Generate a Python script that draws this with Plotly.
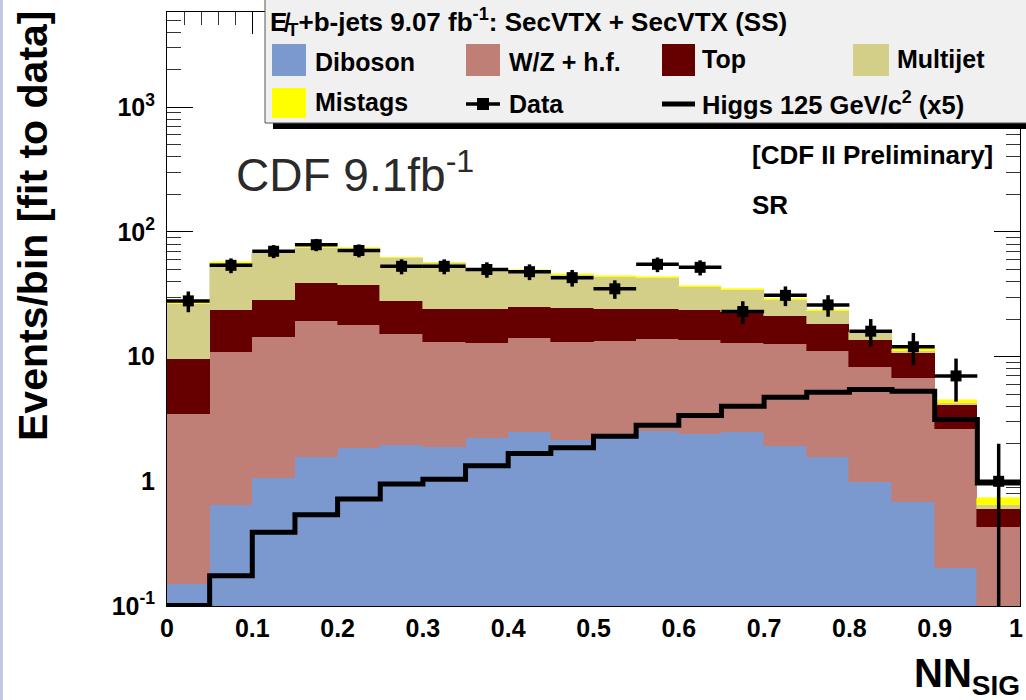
import numpy as np
import plotly.graph_objects as go

# NN_SIG bins (lower edges, width 0.05)
bin_edges = [0.00, 0.05, 0.10, 0.15, 0.20, 0.25, 0.30, 0.35, 0.40, 0.45,
             0.50, 0.55, 0.60, 0.65, 0.70, 0.75, 0.80, 0.85, 0.90, 0.95, 1.00]
bin_width = 0.05

# Background expectations per bin (events, fit to data)
diboson = [0.15, 0.64, 1.06, 1.58, 1.84, 1.94, 1.90, 2.24, 2.50, 2.14,
           2.30, 2.53, 2.41, 2.48, 1.92, 1.56, 0.98, 0.68, 0.20, 0.03]
wz_hf = [3.29, 10.3, 13.3, 17.8, 16.1, 13.3, 11.2, 10.7, 11.6, 11.0,
         11.0, 11.4, 11.1, 10.5, 10.6, 9.6, 7.3, 6.1, 2.41, 0.40]
top = [6.2, 12.9, 14.2, 19.5, 19.6, 12.7, 11.0, 11.2, 10.9, 11.4,
       10.8, 10.2, 10.3, 10.0, 8.8, 7.2, 5.2, 3.84, 1.45, 0.17]
multijet = [16.8, 32.4, 39.0, 35.2, 36.0, 33.7, 32.1, 26.2, 24.0, 20.8,
            19.8, 18.5, 12.7, 11.4, 6.9, 4.9, 2.0, 0.4, 0.2, 0.04]
mistags = [0.3, 0.8, 0.6, 0.5, 0.5, 0.6, 0.4, 0.4, 0.4, 0.4,
           0.4, 0.5, 0.4, 0.5, 0.6, 0.3, 0.2, 0.4, 0.27, 0.10]

# Observed events
data = [28, 54, 70, 79, 71, 53, 53, 50, 48, 43,
        35, 55, 52, 23, 31, 26, 16, 12, 7, 1]

# Higgs 125 GeV/c^2 signal, scaled x5
higgs_x5 = [0.101, 0.175, 0.39, 0.54, 0.72, 0.95, 1.04, 1.33, 1.67, 1.86,
            2.30, 2.81, 3.37, 4.00, 4.73, 5.18, 5.44, 5.28, 3.13, 0.97]

x_ticks = [0, 0.1, 0.2, 0.3, 0.4, 0.5, 0.6, 0.7, 0.8, 0.9, 1]
x_ticklabels = ["0", "0.1", "0.2", "0.3", "0.4", "0.5", "0.6", "0.7", "0.8", "0.9", "1"]
y_ticks = [0.1, 1, 10, 100, 1000]
y_ticklabels = ["10<sup>-1</sup>", "1", "10", "10<sup>2</sup>", "10<sup>3</sup>"]

COLORS = {
    "Diboson": "#7b99cf",
    "W/Z + h.f.": "#bf7f76",
    "Top": "#660000",
    "Multijet": "#d3cf88",
    "Mistags": "#ffff00",
}

FONT = "Liberation Sans, Arial, Helvetica, sans-serif"

# plot-area geometry in pixels
W, H = 1026, 700
L, R, T, B = 167, 1020, 12, 606


def px(x):
    return (x - L) / (R - L)


def py(y):
    return (B - y) / (B - T)


centers = [e + bin_width / 2 for e in bin_edges[:-1]]

fig = go.Figure()

for name, vals in [("Diboson", diboson), ("W/Z + h.f.", wz_hf), ("Top", top),
                   ("Multijet", multijet), ("Mistags", mistags)]:
    fig.add_trace(go.Bar(
        x=centers, y=vals, width=bin_width, name=name,
        marker=dict(color=COLORS[name], line=dict(color=COLORS[name], width=0.6)),
        showlegend=False, hoverinfo="skip",
    ))

# signal step line
fig.add_trace(go.Scatter(
    x=bin_edges, y=higgs_x5 + [higgs_x5[-1]], mode="lines", line_shape="hv",
    line=dict(color="black", width=5), showlegend=False, hoverinfo="skip",
))

# data points with Poisson errors
err = np.sqrt(np.array(data, dtype=float))
err_minus = np.minimum(err, np.array(data, dtype=float) * 0.9999)
fig.add_trace(go.Scatter(
    x=centers, y=data, mode="markers",
    marker=dict(symbol="square", size=11, color="black"),
    error_x=dict(type="constant", value=bin_width / 2, width=0, thickness=3.5, color="black"),
    error_y=dict(type="data", array=err, arrayminus=err_minus, width=0, thickness=3.5, color="black"),
    showlegend=False, hoverinfo="skip",
))

shapes = []
annotations = []

# thin frame strip on the far left
shapes.append(dict(type="rect", xref="paper", yref="paper",
                   x0=px(0), x1=px(3), y0=py(H + 5), y1=py(-5),
                   fillcolor="#c3c9e2", line=dict(width=0), layer="above"))

# legend box with shadow
shapes.append(dict(type="rect", xref="paper", yref="paper",
                   x0=px(273), x1=px(1040), y0=py(129), y1=py(122),
                   fillcolor="black", line=dict(width=0), layer="above"))
shapes.append(dict(type="rect", xref="paper", yref="paper",
                   x0=px(265), x1=px(1040), y0=py(123), y1=py(-5),
                   fillcolor="#f0f0f0", line=dict(color="#555555", width=1), layer="above"))

legend_fill = [("Diboson", 272, 306, 44, 76, 313, 62),
               ("W/Z + h.f.", 466, 500, 44, 76, 507, 62),
               ("Top", 662, 695, 44, 76, 700, 59),
               ("Multijet", 853, 889, 44, 76, 895, 59),
               ("Mistags", 272, 306, 88, 118, 313, 102)]
for name, x0, x1, y0, y1, tx, ty in legend_fill:
    shapes.append(dict(type="rect", xref="paper", yref="paper",
                       x0=px(x0), x1=px(x1), y0=py(y1), y1=py(y0),
                       fillcolor=COLORS[name], line=dict(width=0), layer="above"))
    annotations.append(dict(x=px(tx), y=py(ty), xref="paper", yref="paper",
                            text="<b>%s</b>" % name, showarrow=False,
                            xanchor="left", yanchor="middle",
                            font=dict(family=FONT, size=25, color="black")))

# data legend symbol
shapes.append(dict(type="line", xref="paper", yref="paper",
                   x0=px(466), x1=px(500), y0=py(104), y1=py(104),
                   line=dict(color="black", width=3.5), layer="above"))
shapes.append(dict(type="rect", xref="paper", yref="paper",
                   x0=px(477), x1=px(489), y0=py(110), y1=py(98),
                   fillcolor="black", line=dict(width=0), layer="above"))
annotations.append(dict(x=px(507), y=py(104), xref="paper", yref="paper",
                        text="<b>Data</b>", showarrow=False, xanchor="left", yanchor="middle",
                        font=dict(family=FONT, size=25, color="black")))
# signal legend symbol
shapes.append(dict(type="line", xref="paper", yref="paper",
                   x0=px(662), x1=px(695), y0=py(104), y1=py(104),
                   line=dict(color="black", width=5), layer="above"))
annotations.append(dict(x=px(700), y=py(103), xref="paper", yref="paper",
                        text="<b>Higgs 125 GeV/c<sup>2</sup> (x5)</b>", showarrow=False,
                        xanchor="left", yanchor="middle",
                        font=dict(family=FONT, size=25.5, color="black")))
# legend header
annotations.append(dict(x=px(268), y=py(22), xref="paper", yref="paper",
                        text="<b>E\u0338<sub>T</sub>+b-jets 9.07 fb<sup>-1</sup>: SecVTX + SecVTX (SS)</b>",
                        showarrow=False, xanchor="left", yanchor="middle",
                        font=dict(family=FONT, size=26, color="black")))

# plot labels
annotations.append(dict(x=px(750), y=py(155), xref="paper", yref="paper",
                        text="<b>[CDF II Preliminary]</b>", showarrow=False,
                        xanchor="left", yanchor="middle",
                        font=dict(family=FONT, size=26, color="black")))
annotations.append(dict(x=px(750), y=py(205), xref="paper", yref="paper",
                        text="<b>SR</b>", showarrow=False,
                        xanchor="left", yanchor="middle",
                        font=dict(family=FONT, size=26, color="black")))
annotations.append(dict(x=px(234), y=py(172), xref="paper", yref="paper",
                        text="CDF 9.1fb<sup>-1</sup>", showarrow=False,
                        xanchor="left", yanchor="middle",
                        font=dict(family=FONT, size=46, color="#2a2a2a")))

# last x tick label, kept inside the page edge
annotations.append(dict(x=px(1025), y=py(612), xref="paper", yref="paper",
                        text="<b>1</b>", showarrow=False,
                        xanchor="right", yanchor="top",
                        font=dict(family=FONT, size=25, color="black")))

# axis titles
annotations.append(dict(x=px(33), y=py(226), xref="paper", yref="paper",
                        text="<b>Events/bin [fit to data]</b>", showarrow=False,
                        textangle=-90, xanchor="center", yanchor="middle",
                        font=dict(family=FONT, size=41, color="black")))
annotations.append(dict(x=px(1022), y=py(676), xref="paper", yref="paper",
                        text="<b>NN<sub>SIG</sub></b>", showarrow=False,
                        xanchor="right", yanchor="middle",
                        font=dict(family=FONT, size=40, color="black")))

minor_y = []
for dec in [0.1, 1, 10, 100, 1000]:
    for m in range(2, 10):
        v = dec * m
        if v < 5800:
            minor_y.append(v)

fig.update_layout(
    width=W, height=H, autosize=False,
    margin=dict(l=L, r=W - R, t=T, b=H - B),
    paper_bgcolor="white", plot_bgcolor="white",
    barmode="stack", bargap=0,
    shapes=shapes, annotations=annotations,
    font=dict(family=FONT, color="black"),
    xaxis=dict(
        range=[0, 1], tickmode="array", tickvals=x_ticks,
        ticktext=x_ticklabels[:-1] + [""],
        ticks="inside", ticklen=22, tickwidth=1, tickcolor="black",
        minor=dict(ticks="inside", ticklen=13, tickwidth=1, tickcolor="#333333",
                   dtick=0.02, tick0=0),
        showline=True, linecolor="black", linewidth=1, mirror="ticks",
        showgrid=False, zeroline=False, layer="below traces",
        tickfont=dict(family=FONT, size=25, color="black", weight="bold"),
    ),
    yaxis=dict(
        type="log", range=[-1, 3.764], tickmode="array",
        tickvals=y_ticks, ticktext=y_ticklabels,
        ticks="inside", ticklen=26, tickwidth=1, tickcolor="black",
        minor=dict(ticks="inside", ticklen=14, tickwidth=1, tickcolor="#333333",
                   tickmode="array", tickvals=minor_y),
        showline=True, linecolor="black", linewidth=1, mirror="ticks",
        showgrid=False, zeroline=False, layer="below traces",
        ticklabelstandoff=6,
        tickfont=dict(family=FONT, size=25, color="black", weight="bold"),
    ),
)

fig.write_html("out.html")
